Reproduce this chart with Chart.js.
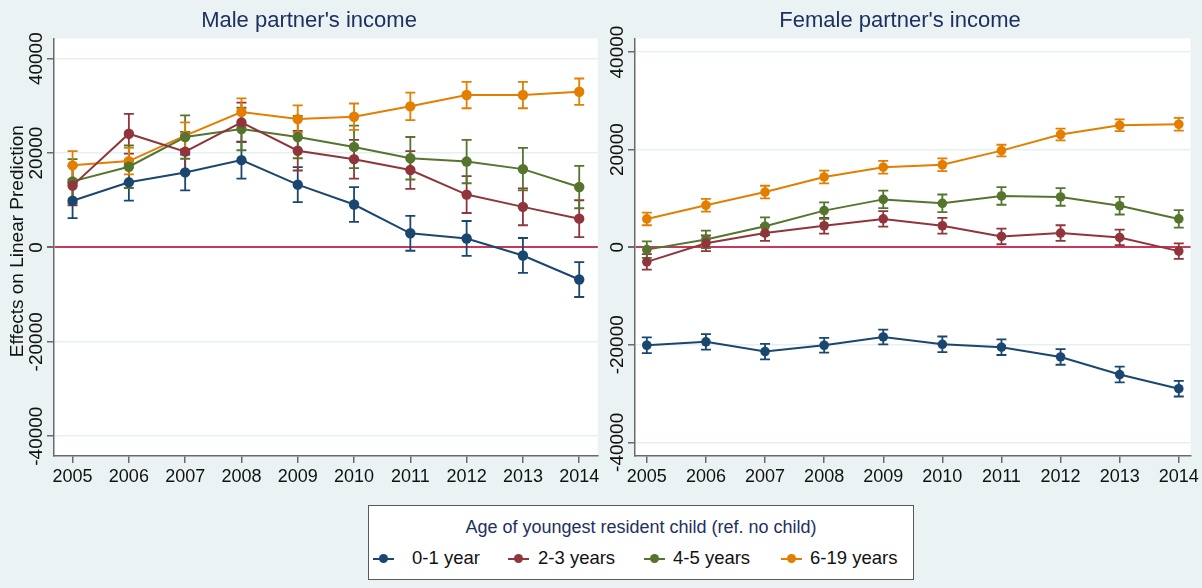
<!DOCTYPE html>
<html>
<head>
<meta charset="utf-8">
<script src="https://cdn.jsdelivr.net/npm/chart.js@4.4.0/dist/chart.umd.min.js"></script>
<style>
    body { margin: 0; background: #eaf2f3; font-family: "Liberation Sans", Arial, sans-serif; }
    #wrap { position: relative; width: 1202px; height: 588px; overflow: hidden; }
    #maleChart { position: absolute; left: 0; top: 0; }
    #femaleChart { position: absolute; left: 603px; top: 0; }
    .legend { position: absolute; left: 368px; top: 505px; width: 546px; height: 75px;
              background: #fff; border: 1.5px solid #5a5a5a; box-sizing: border-box; }
    .legend .ttl { position: absolute; left: 0; right: 0; top: 11px; text-align: center;
                   font-size: 18px; color: #1e3060; }
    .legend .item { position: absolute; top: 41px; font-size: 18.5px; color: #111; white-space: nowrap; }
    .legend .key { position: absolute; top: 11px; width: 21px; height: 2px; }
    .legend .dot { position: absolute; top: 7px; left: 6px; width: 9px; height: 9px; border-radius: 50%; }
</style>
</head>
<body>
<div id="wrap">
    <canvas id="maleChart" width="603" height="490"></canvas>
    <canvas id="femaleChart" width="599" height="490"></canvas>
    <div class="legend" id="legend">
        <div class="ttl">Age of youngest resident child (ref. no child)</div>
    </div>
</div>
<script>
// anos e rótulos
const years = [2005, 2006, 2007, 2008, 2009, 2010, 2011, 2012, 2013, 2014];
const yTicks = [-40000, -20000, 0, 20000, 40000];
const seriesNames = ['0-1 year', '2-3 years', '4-5 years', '6-19 years'];
const seriesColors = ['#1a476f', '#90353b', '#55752f', '#e37e00'];

// renda do parceiro (homem)
const maleInfant    = [9900, 13800, 15900, 18500, 13300, 9100, 3000, 1900, -1700, -6800];
const maleToddler   = [13100, 24100, 20300, 26500, 20500, 18700, 16400, 11200, 8600, 6100];
const malePreschool = [14000, 17100, 23400, 25100, 23400, 21300, 18900, 18200, 16600, 12800];
const maleSchool    = [17400, 18300, 23700, 28700, 27200, 27700, 29900, 32300, 32300, 33000];

const maleInfantErr    = [3700, 3900, 3800, 3900, 3700, 3700, 3700, 3700, 3700, 3700];
const maleToddlerErr   = [4200, 4200, 4200, 4200, 4200, 4100, 4000, 3900, 3900, 3900];
const malePreschoolErr = [4700, 4500, 4600, 4500, 4500, 4500, 4500, 4600, 4500, 4500];
const maleSchoolErr    = [3000, 2800, 2800, 2900, 2900, 2800, 2900, 2800, 2800, 2800];

// renda da parceira (mulher)
const femaleInfant    = [-20100, -19400, -21400, -20100, -18400, -19900, -20500, -22500, -26100, -29000];
const femaleToddler   = [-3000, 800, 2900, 4400, 5800, 4400, 2200, 2900, 2000, -800];
const femalePreschool = [-500, 1600, 4300, 7500, 9800, 9000, 10500, 10300, 8500, 5800];
const femaleSchool    = [5800, 8600, 11300, 14400, 16400, 16900, 19800, 23100, 25000, 25200];

const femaleInfantErr    = [1600, 1600, 1600, 1500, 1500, 1600, 1600, 1600, 1600, 1600];
const femaleToddlerErr   = [1600, 1600, 1600, 1600, 1600, 1600, 1600, 1600, 1600, 1600];
const femalePreschoolErr = [1700, 1800, 1800, 1700, 1800, 1800, 1800, 1800, 1800, 1800];
const femaleSchoolErr    = [1300, 1300, 1300, 1300, 1300, 1300, 1200, 1200, 1200, 1300];

Chart.defaults.font.family = '"Liberation Sans", Arial, sans-serif';

function makeDatasets(values, errors, radius) {
    return values.map(function (serie, k) {
        return {
            label: seriesNames[k],
            data: serie.map(function (v, i) { return { x: years[i], y: v }; }),
            err: errors[k],
            borderColor: seriesColors[k],
            backgroundColor: seriesColors[k],
            borderWidth: 2,
            pointRadius: radius,
            pointBorderWidth: 0,
            tension: 0
        };
    });
}

// fundo branco da área do gráfico
const plotBackground = {
    id: 'plotBackground',
    beforeDraw: function (chart) {
        const a = chart.chartArea;
        chart.ctx.save();
        chart.ctx.fillStyle = '#ffffff';
        chart.ctx.fillRect(a.left, a.top, a.right - a.left, a.bottom - a.top);
        chart.ctx.restore();
    }
};

// barras de erro (intervalos de confiança)
const errorBars = {
    id: 'errorBars',
    beforeDatasetsDraw: function (chart) {
        const ctx = chart.ctx;
        const x = chart.scales.x;
        const y = chart.scales.y;
        chart.data.datasets.forEach(function (ds) {
            ctx.save();
            ctx.strokeStyle = ds.borderColor;
            ctx.lineWidth = 1.8;
            ds.data.forEach(function (p, i) {
                const px = x.getPixelForValue(p.x);
                const top = y.getPixelForValue(p.y + ds.err[i]);
                const bot = y.getPixelForValue(p.y - ds.err[i]);
                ctx.beginPath();
                ctx.moveTo(px, top); ctx.lineTo(px, bot);
                ctx.moveTo(px - 5, top); ctx.lineTo(px + 5, top);
                ctx.moveTo(px - 5, bot); ctx.lineTo(px + 5, bot);
                ctx.stroke();
            });
            ctx.restore();
        });
    }
};

// rótulos do eixo y girados (estilo Stata)
function yLabels(labelX, axisTitle) {
    return {
        id: 'yLabels',
        afterDraw: function (chart) {
            const ctx = chart.ctx;
            const y = chart.scales.y;
            ctx.save();
            ctx.fillStyle = '#111';
            ctx.font = '19px "Liberation Sans", Arial, sans-serif';
            ctx.textAlign = 'center';
            ctx.textBaseline = 'middle';
            yTicks.forEach(function (v) {
                ctx.save();
                ctx.translate(labelX, y.getPixelForValue(v));
                ctx.rotate(-Math.PI / 2);
                ctx.fillText(String(v), 0, 1);
                ctx.restore();
            });
            if (axisTitle) {
                const a = chart.chartArea;
                ctx.translate(18, (a.top + a.bottom) / 2 - 6);
                ctx.rotate(-Math.PI / 2);
                ctx.fillText(axisTitle, 0, 0);
            }
            ctx.restore();
        }
    };
}

function criarPainel(canvasId, titulo, datasets, opts) {
    const config = {
        type: 'line',
        data: { datasets: datasets },
        options: {
            responsive: false,
            animation: false,
            layout: { padding: { left: opts.padLeft, right: opts.padRight, top: 0, bottom: 0 } },
            plugins: {
                legend: { display: false },
                tooltip: { enabled: false },
                title: {
                    display: true,
                    text: titulo,
                    color: '#1e3060',
                    font: { size: 22, weight: 'normal' },
                    padding: { top: 8, bottom: 4 }
                }
            },
            scales: {
                x: {
                    type: 'linear',
                    min: opts.xMin,
                    max: opts.xMax,
                    afterBuildTicks: function (s) { s.ticks = years.map(function (v) { return { value: v }; }); },
                    afterFit: function (s) { s.height = 34; },
                    ticks: {
                        color: '#111',
                        font: { size: 18 },
                        padding: 3,
                        maxRotation: 0,
                        callback: function (v) { return String(v); }
                    },
                    grid: { drawOnChartArea: false, tickLength: 7, tickColor: '#6a6a6a', lineWidth: 1.5 },
                    border: { color: '#6a6a6a', width: 1.5 }
                },
                y: {
                    type: 'linear',
                    min: opts.yMin,
                    max: opts.yMax,
                    afterBuildTicks: function (s) { s.ticks = yTicks.map(function (v) { return { value: v }; }); },
                    afterFit: function (s) { s.width = opts.yWidth; },
                    ticks: { display: false },
                    grid: {
                        color: function (c) { return c.tick && c.tick.value === 0 ? '#c8385a' : '#e6f0f1'; },
                        lineWidth: function (c) { return c.tick && c.tick.value === 0 ? 2 : 1.5; },
                        tickLength: 7,
                        tickColor: '#6a6a6a'
                    },
                    border: { color: '#6a6a6a', width: 1.5 }
                }
            }
        },
        plugins: [plotBackground, errorBars, yLabels(opts.labelX, opts.axisTitle)]
    };
    return new Chart(document.getElementById(canvasId).getContext('2d'), config);
}

criarPainel('maleChart', "Male partner's income",
    makeDatasets([maleInfant, maleToddler, malePreschool, maleSchool],
                 [maleInfantErr, maleToddlerErr, malePreschoolErr, maleSchoolErr], 5.2),
    { padLeft: 15, padRight: 0, yWidth: 39, xMin: 2004.67, xMax: 2014.33,
      yMin: -44200, yMax: 44300, labelX: 36, axisTitle: 'Effects on Linear Prediction' });

criarPainel('femaleChart', "Female partner's income",
    makeDatasets([femaleInfant, femaleToddler, femalePreschool, femaleSchool],
                 [femaleInfantErr, femaleToddlerErr, femalePreschoolErr, femaleSchoolErr], 4.8),
    { padLeft: 4, padRight: 9, yWidth: 28, xMin: 2004.8, xMax: 2014.2,
      yMin: -42800, yMax: 42800, labelX: 14, axisTitle: null });

// legenda em HTML
const legendKeyLeft = [4, 139, 275, 412];
const legendTextLeft = [43, 169, 304, 441];
const legend = document.getElementById('legend');
seriesNames.forEach(function (nome, k) {
    const key = document.createElement('div');
    key.className = 'item';
    key.style.left = legendKeyLeft[k] + 'px';
    key.innerHTML = '<span class="key" style="background:' + seriesColors[k] + '"></span>' +
                    '<span class="dot" style="background:' + seriesColors[k] + '"></span>';
    legend.appendChild(key);
    const txt = document.createElement('div');
    txt.className = 'item';
    txt.style.left = legendTextLeft[k] + 'px';
    txt.textContent = nome;
    legend.appendChild(txt);
});
</script>
</body>
</html>
